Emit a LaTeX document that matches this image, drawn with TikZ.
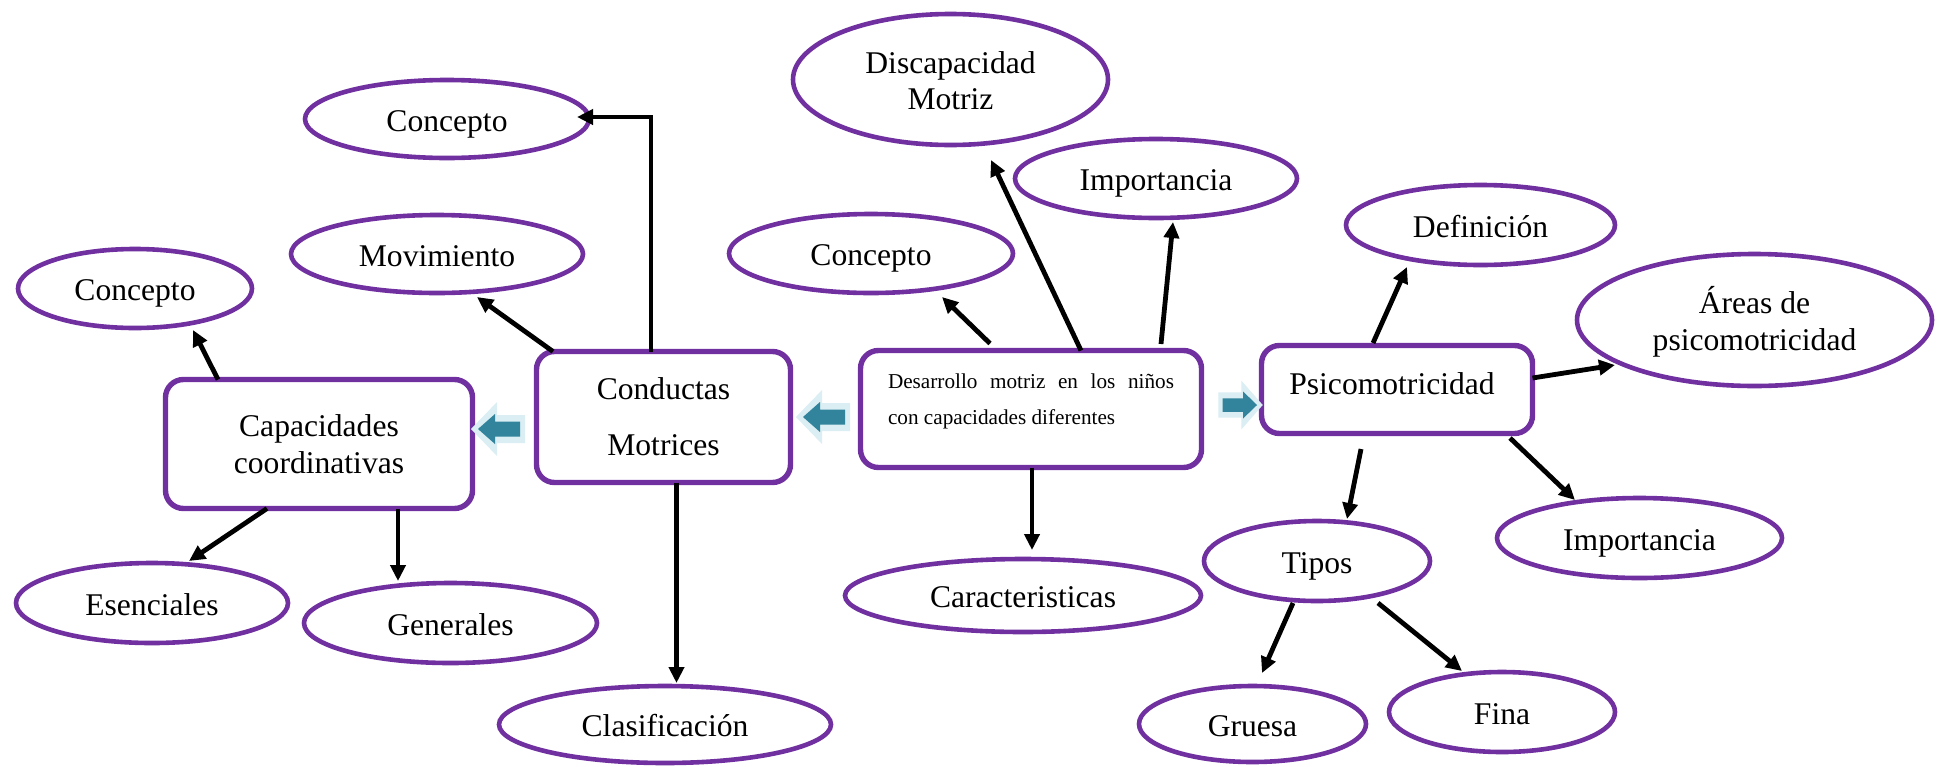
\documentclass[tikz,border=0pt]{standalone}
\usepackage{fontspec}
\setmainfont{Liberation Serif}
\usetikzlibrary{arrows.meta,shapes.geometric}
\definecolor{vio}{HTML}{7030A0}
\definecolor{tealA}{HTML}{31849B}
\definecolor{glowc}{HTML}{DAEEF3}
\begin{document}
\begin{tikzpicture}[x=1pt,y=-1pt,
  ell/.style={ellipse, draw=vio, line width=4.6pt, fill=white, inner sep=0pt, outer sep=0pt,
    font=\fontsize{31.6}{36}\selectfont, text height=24pt, text depth=0pt},
  box/.style={rectangle, rounded corners=18pt, draw=vio, line width=5.4pt, fill=white,
    inner sep=0pt, outer sep=0pt, font=\fontsize{31.6}{37}\selectfont},
  arr/.style={line width=4.8pt, -{Triangle[length=16pt,width=15pt]}},
  blockarr/.pic={
    \fill[glowc] (-7,0) -- (19,-27) -- (19,-14) -- (47,-14) -- (47,14) -- (19,14) -- (19,27) -- cycle;
    \fill[tealA] (0,0) -- (17,-15) -- (17,-7.5) -- (42,-7.5) -- (42,7.5) -- (17,7.5) -- (17,15) -- cycle;
  }
]
\useasboundingbox (0,0) rectangle (1948,766);
\fill[white] (0,0) rectangle (1948,766);

% boxes
\node[box, minimum width=307pt, minimum height=129pt, text height=24pt, text depth=40pt] (cc) at (319,444)
  {\begin{tabular}[t]{@{}c@{}}Capacidades\\coordinativas\end{tabular}};
\node[box, minimum width=254pt, minimum height=131pt, font=\fontsize{31.6}{56}\selectfont,
  text height=24pt, text depth=60pt] (cm) at (663.5,417)
  {\begin{tabular}[t]{@{}c@{}}Conductas\\Motrices\end{tabular}};
\node[box, minimum width=341pt, minimum height=117pt, font=\fontsize{21.2}{36}\selectfont,
  text height=16pt, text depth=58pt] (dr) at (1031,409)
  {\begin{tabular}[t]{@{}l@{}}\hbox to 286pt{Desarrollo\hfill motriz\hfill en\hfill los\hfill niños}\\con capacidades diferentes\end{tabular}};
\node[box, minimum width=271pt, minimum height=88pt, text height=9pt, text depth=0pt] (ps) at (1397,389.5)
  {Psicomotricidad\hspace*{10pt}};

% block arrows
\pic at ([xshift=5.5pt,yshift=15pt]cc.east) {blockarr};
\pic at ([xshift=12.5pt]cm.east) {blockarr};
\pic[xscale=-0.82, yscale=0.9] at ([xshift=-4.5pt,yshift=-15.5pt]ps.west) {blockarr};

% ellipses
\node[ell, minimum width=284pt, minimum height=78pt] (c1) at (447,119) {Concepto};
\node[ell, minimum width=292pt, minimum height=78pt] (mv) at (437,254) {Movimiento};
\node[ell, minimum width=234pt, minimum height=79pt] (c2) at (135,288.5) {Concepto};
\node[ell, minimum width=272pt, minimum height=80pt] (es) at (152,603) {Esenciales};
\node[ell, minimum width=293pt, minimum height=80pt] (ge) at (450.5,623) {Generales};
\node[ell, minimum width=332pt, minimum height=77pt] (cl) at (665,724.5) {Clasificación};
\node[ell, minimum width=315pt, minimum height=131pt, text depth=37pt] (dm) at (950.5,79.5)
  {\begin{tabular}[t]{@{}c@{}}Discapacidad\\Motriz\end{tabular}};
\node[ell, minimum width=282pt, minimum height=79pt] (im1) at (1156,178.5) {Importancia};
\node[ell, minimum width=284pt, minimum height=79pt] (c3) at (871,253.5) {Concepto};
\node[ell, minimum width=356pt, minimum height=73pt] (ca) at (1023,595.5) {Caracteristicas};
\node[ell, minimum width=269pt, minimum height=80pt] (de) at (1480.5,225) {Definición};
\node[ell, minimum width=355pt, minimum height=132pt, font=\fontsize{31.6}{37}\selectfont, text depth=38pt]
  (ar) at (1754.5,320) {\begin{tabular}[t]{@{}c@{}}Áreas de\\psicomotricidad\end{tabular}};
\node[ell, minimum width=285pt, minimum height=80pt] (im2) at (1639.5,538) {Importancia};
\node[ell, minimum width=226pt, minimum height=80pt] (ti) at (1317,561) {Tipos};
\node[ell, minimum width=227pt, minimum height=76pt] (gr) at (1252.5,724) {Gruesa};
\node[ell, minimum width=226pt, minimum height=80pt] (fi) at (1502,712) {Fina};

% connectors
\draw[arr] ([xshift=-12.5pt]cm.north) |- ([xshift=-12pt,yshift=2pt]c1.east);
\draw[arr] ([xshift=16.5pt]cm.north west) -- ([xshift=40pt,yshift=-4pt]mv.south);
\draw[arr] ([xshift=52.5pt]cc.north west) -- ([xshift=58pt,yshift=-2pt]c2.south);
\draw[arr] ([xshift=101.5pt]cc.south west) -- ([xshift=37pt,yshift=2pt]es.north);
\draw[arr] ([xshift=79pt]cc.south) -- ([xshift=-52.5pt,yshift=2pt]ge.north);
\draw[arr] ([xshift=13pt]cm.south) -- ([xshift=11.5pt,yshift=3pt]cl.north);
\draw[arr] ([xshift=-41pt,yshift=7pt]dr.north) -- ([xshift=71pt,yshift=-4pt]c3.south);
\draw[arr] ([xshift=50pt]dr.north) -- ([xshift=40.5pt,yshift=-15pt]dm.south);
\draw[arr] ([xshift=130pt,yshift=6.5pt]dr.north) -- ([xshift=17pt,yshift=-4pt]im1.south);
\draw[arr] ([xshift=1pt]dr.south) -- ([xshift=9pt,yshift=9pt]ca.north);
\draw[arr] ([xshift=-24pt,yshift=2.5pt]ps.north) -- ([xshift=-73.5pt,yshift=-2pt]de.south);
\draw[arr] ([yshift=11.5pt]ps.east) -- ([xshift=38pt,yshift=-45pt]ar.west);
\draw[arr] ([xshift=-22.5pt,yshift=-4.5pt]ps.south east) -- ([xshift=-64.5pt,yshift=-2pt]im2.north);
\draw[arr] ([xshift=-36pt,yshift=-15.5pt]ps.south) -- ([xshift=30pt,yshift=2pt]ti.north);
\draw[arr] ([xshift=-24pt,yshift=-2pt]ti.south) -- ([xshift=9.5pt,yshift=13pt]gr.north);
\draw[arr] ([xshift=61pt,yshift=-2pt]ti.south) -- ([xshift=-40pt,yshift=1pt]fi.north);
\end{tikzpicture}
\end{document}
